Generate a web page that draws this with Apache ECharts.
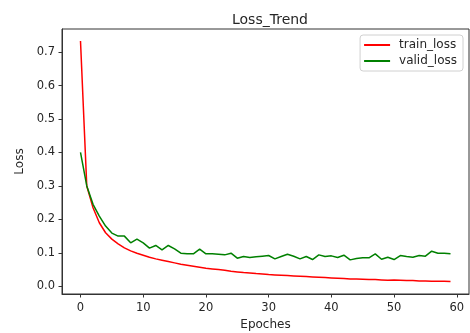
<!DOCTYPE html>
<html>
<head>
<meta charset="utf-8">
<script src="https://cdn.jsdelivr.net/npm/echarts@6/dist/echarts.min.js"></script>
<style>
  html, body { margin: 0; padding: 0; background: #fff; }
  #chart { width: 470px; height: 333px; }
</style>
</head>
<body>
<div id="chart"></div>
<script>
// epochs 0..59
const epochs = [
  0, 1, 2, 3, 4, 5, 6, 7, 8, 9, 10, 11, 12, 13, 14, 15, 16, 17, 18, 19,
  20, 21, 22, 23, 24, 25, 26, 27, 28, 29, 30, 31, 32, 33, 34, 35, 36, 37, 38, 39,
  40, 41, 42, 43, 44, 45, 46, 47, 48, 49, 50, 51, 52, 53, 54, 55, 56, 57, 58, 59
];
const trainLoss = [
  0.733, 0.300, 0.235, 0.190, 0.160, 0.141, 0.127, 0.115, 0.106, 0.099,
  0.093, 0.087, 0.082, 0.078, 0.074, 0.070, 0.066, 0.063, 0.060, 0.057,
  0.054, 0.052, 0.050, 0.048, 0.045, 0.043, 0.041, 0.040, 0.038, 0.037,
  0.035, 0.034, 0.033, 0.032, 0.031, 0.030, 0.029, 0.028, 0.027, 0.026,
  0.025, 0.024, 0.023, 0.022, 0.022, 0.021, 0.020, 0.020, 0.019, 0.018,
  0.019, 0.018, 0.017, 0.017, 0.016, 0.016, 0.015, 0.015, 0.015, 0.014
];
const validLoss = [
  0.400, 0.300, 0.245, 0.210, 0.180, 0.159, 0.150, 0.150, 0.130, 0.141,
  0.130, 0.114, 0.122, 0.109, 0.122, 0.112, 0.099, 0.097, 0.097, 0.111,
  0.097, 0.097, 0.096, 0.094, 0.099, 0.084, 0.089, 0.086, 0.088, 0.090,
  0.092, 0.082, 0.089, 0.096, 0.090, 0.082, 0.089, 0.080, 0.094, 0.089,
  0.091, 0.086, 0.093, 0.079, 0.083, 0.085, 0.085, 0.097, 0.081, 0.087,
  0.080, 0.092, 0.089, 0.087, 0.092, 0.090, 0.105, 0.099, 0.099, 0.097
];
const xTicks = [0, 10, 20, 30, 40, 50, 60];
const yTicks = [0.0, 0.1, 0.2, 0.3, 0.4, 0.5, 0.6, 0.7];

const chart = echarts.init(document.getElementById('chart'));
const font = 'DejaVu Sans';
const textColor = '#262626';
const axisColor = '#333';

const option = {
  animation: false,
  title: {
    text: 'Loss_Trend',
    left: 265,
    textAlign: 'center',
    top: 8,
    textStyle: { fontFamily: font, fontSize: 14, fontWeight: 'normal', color: textColor }
  },
  legend: {
    right: 7,
    top: 35,
    orient: 'vertical',
    icon: 'rect',
    itemWidth: 26,
    itemHeight: 2,
    itemGap: 4,
    padding: [4, 6, 4, 4],
    borderColor: '#d0d0d0',
    borderWidth: 1,
    borderRadius: 3,
    textStyle: { fontFamily: font, fontSize: 12, color: textColor, padding: [0, 0, 0, 4] },
    data: ['train_loss', 'valid_loss']
  },
  grid: {
    left: 62, top: 29, right: 1, bottom: 39,
    outerBoundsMode: 'none',
    show: true,
    borderColor: axisColor,
    borderWidth: 1
  },
  xAxis: {
    type: 'value',
    min: -2.95,
    max: 61.95,
    name: 'Epoches',
    nameLocation: 'middle',
    nameGap: 25,
    nameTextStyle: { fontFamily: font, fontSize: 12, color: textColor },
    axisLine: { show: true, onZero: false, lineStyle: { color: axisColor } },
    axisTick: { show: true, length: 3.5, customValues: xTicks, lineStyle: { color: axisColor } },
    axisLabel: { customValues: xTicks, fontFamily: font, fontSize: 11.5, color: textColor, margin: 8 },
    splitLine: { show: false }
  },
  yAxis: {
    type: 'value',
    min: -0.023,
    max: 0.769,
    name: 'Loss',
    nameLocation: 'middle',
    nameGap: 31,
    nameTextStyle: { fontFamily: font, fontSize: 12, color: textColor },
    axisLine: { show: true, onZero: false, lineStyle: { color: axisColor } },
    axisTick: { show: true, length: 3.5, customValues: yTicks, lineStyle: { color: axisColor } },
    axisLabel: {
      customValues: yTicks,
      fontFamily: font, fontSize: 11.5, color: textColor, margin: 7,
      formatter: v => v.toFixed(1)
    },
    splitLine: { show: false }
  },
  series: [
    {
      name: 'train_loss',
      type: 'line',
      data: epochs.map((e, i) => [e, trainLoss[i]]),
      showSymbol: false,
      lineStyle: { color: '#ff0000', width: 1.5 },
      itemStyle: { color: '#ff0000' }
    },
    {
      name: 'valid_loss',
      type: 'line',
      data: epochs.map((e, i) => [e, validLoss[i]]),
      showSymbol: false,
      lineStyle: { color: '#008000', width: 1.5 },
      itemStyle: { color: '#008000' }
    }
  ]
};

chart.setOption(option);
</script>
</body>
</html>
